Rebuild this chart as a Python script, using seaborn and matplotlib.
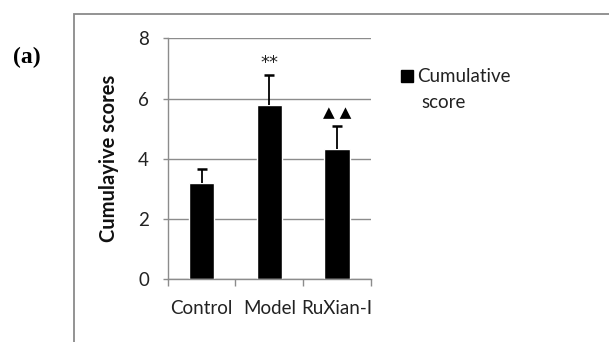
import matplotlib
matplotlib.use("Agg")
import matplotlib.pyplot as plt
import matplotlib.patches as mpatches
import seaborn as sns
import pandas as pd
import numpy as np

groups = ["Control", "Model", "RuXian-I"]
scores = [3.21, 5.78, 4.33]
errors = [0.45, 1.01, 0.76]
marks = ["", "**", "▲ ▲"]
yticks = [0, 2, 4, 6, 8]

sns.set_theme(style="white")
plt.rcParams['font.family'] = ['Lato', 'DejaVu Sans']

W, H = 609, 342
fig = plt.figure(figsize=(W / 100, H / 100), dpi=100)
ax = fig.add_axes([167.7 / W, 1 - 279.3 / H, (371 - 167.7) / W, (279.3 - 38.3) / H])

df = pd.DataFrame({"group": groups, "score": scores})
sns.barplot(data=df, x="group", y="score", color="black", width=0.374,
            ax=ax, errorbar=None, saturation=1)

xpos = np.arange(len(groups))
tops = np.array(scores) + np.array(errors)
ax.vlines(xpos, scores, tops, color="black", linewidth=1.3, zorder=3)
ax.plot(xpos, tops, linestyle="none", marker="_", markersize=6.5,
        markeredgewidth=1.8, color="black", zorder=3)

for i, (t, m) in enumerate(zip(tops, marks)):
    if m == "**":
        ax.text(i, t + 0.40, m, ha="center", va="center", fontsize=13,
                family=['DejaVu Sans'], color="#222222")
    elif m:
        ax.text(i, t + 0.43, m, ha="center", va="center", fontsize=11,
                family=['DejaVu Sans'], color="black")

ax.set_xlim(-0.5, 2.5)
ax.set_ylim(0, 8)
ax.set_yticks(yticks)
ax.yaxis.grid(True, color="#8c8c8c", linewidth=1.0)
ax.set_axisbelow(True)
ax.set_xlabel("")
ax.set_ylabel("Cumulayive scores", fontsize=14.5, fontweight="bold", color="#111111")
ax.yaxis.set_label_coords((119 - 167.7) / 203.3, 0.5)

for side in ["top", "right"]:
    ax.spines[side].set_visible(False)
for side in ["left", "bottom"]:
    ax.spines[side].set_color("#8c8c8c")
    ax.spines[side].set_linewidth(1.0)

ax.tick_params(axis="y", which="major", direction="out", length=3.8, width=1.0,
               color="#8c8c8c", labelsize=13.5, labelcolor="#222222", pad=9.6, left=True)
ax.tick_params(axis="x", which="major", length=0, labelsize=13.5, labelcolor="#222222", pad=15)
ax.set_xticks([-0.5, 0.5, 1.5, 2.5], minor=True)
ax.tick_params(axis="x", which="minor", direction="out", length=4.8, width=1.0,
               color="#8c8c8c", bottom=True)

# legend entry: square handle + two-line label
leg = fig.legend(handles=[mpatches.Patch(color="black", label="Cumulative")],
                 loc="center left", bbox_to_anchor=(401 / W, 1 - 77 / H), frameon=False,
                 fontsize=13.5, handlelength=0.62, handleheight=0.62, handletextpad=0.25,
                 borderpad=0, borderaxespad=0, labelcolor="#222222")
fig.text(421.7 / W, 1 - 103 / H, "score", fontsize=13.5, color="#222222",
         ha="left", va="center")

frame = mpatches.Rectangle((74 / W, -0.05), 1.0, 1 - 14 / H + 0.05,
                           transform=fig.transFigure, fill=False,
                           edgecolor="#8a8a8a", linewidth=1.3, clip_on=False)
fig.add_artist(frame)

fig.text(13 / W, 1 - 57 / H, "(a)", fontsize=17, fontweight="bold",
         family="Liberation Serif", va="center", ha="left", color="black")

fig.savefig("out.png", dpi=100)
